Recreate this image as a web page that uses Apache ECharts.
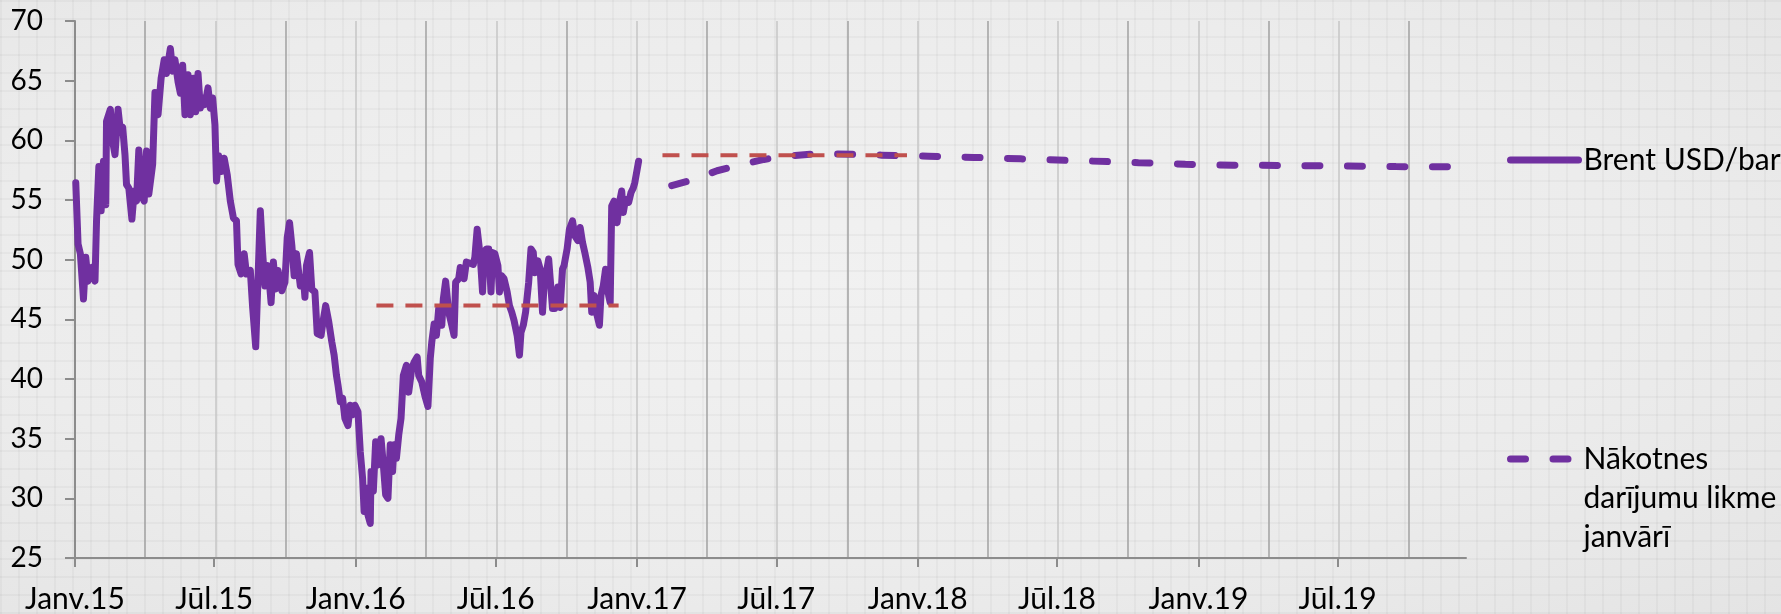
<!DOCTYPE html>
<html>
<head>
<meta charset="utf-8">
<script src="https://cdn.jsdelivr.net/npm/echarts@6/dist/echarts.min.js"></script>
<style>
  html, body { margin: 0; padding: 0; }
  body {
    width: 1781px; height: 614px; overflow: hidden;
    background-color: #ebebeb;
    background-image:
      linear-gradient(to right, rgba(0,0,0,0.03) 2px, transparent 2px),
      linear-gradient(to bottom, rgba(0,0,0,0.03) 2px, transparent 2px),
      radial-gradient(ellipse at 45% 45%, #f1f1f1 0%, #ececec 60%, #e4e4e4 100%);
    background-size: 18px 18px, 18px 18px, 100% 100%;
  }
  #chart { width: 1781px; height: 614px; }
</style>
</head>
<body>
<div id="chart"></div>
<script>
  // x axis labels (Jan / Jul)
  var tickDates = ['2015-01-01', '2015-07-01', '2016-01-01', '2016-07-01', '2017-01-01',
    '2017-07-01', '2018-01-01', '2018-07-01', '2019-01-01', '2019-07-01'];
  var tickLabels = ['Janv.15', 'Jūl.15', 'Janv.16', 'Jūl.16', 'Janv.17',
    'Jūl.17', 'Janv.18', 'Jūl.18', 'Janv.19', 'Jūl.19'];

  // Brent USD/bar
  var brentDates = [
    '2015-01-02', '2015-01-05', '2015-01-08', '2015-01-12', '2015-01-15', '2015-01-18', '2015-01-23', '2015-01-27', '2015-01-29',
    '2015-02-01', '2015-02-04', '2015-02-07', '2015-02-10', '2015-02-11', '2015-02-16', '2015-02-19', '2015-02-22', '2015-02-26',
    '2015-03-01', '2015-03-04', '2015-03-07', '2015-03-09', '2015-03-12', '2015-03-16', '2015-03-19', '2015-03-22', '2015-03-25', '2015-03-29',
    '2015-04-01', '2015-04-04', '2015-04-07', '2015-04-12', '2015-04-15', '2015-04-19', '2015-04-23', '2015-04-27', '2015-04-30',
    '2015-05-05', '2015-05-08', '2015-05-11', '2015-05-15', '2015-05-18', '2015-05-21', '2015-05-24', '2015-05-28', '2015-05-31',
    '2015-06-04', '2015-06-07', '2015-06-10', '2015-06-13', '2015-06-16', '2015-06-19', '2015-06-23', '2015-06-26', '2015-06-29',
    '2015-07-02', '2015-07-04', '2015-07-07', '2015-07-11', '2015-07-14', '2015-07-18', '2015-07-22', '2015-07-26', '2015-07-30',
    '2015-08-01', '2015-08-05', '2015-08-09', '2015-08-12', '2015-08-17', '2015-08-20', '2015-08-24', '2015-08-30',
    '2015-09-02', '2015-09-05', '2015-09-09', '2015-09-13', '2015-09-16', '2015-09-19', '2015-09-22', '2015-09-27',
    '2015-10-01', '2015-10-04', '2015-10-07', '2015-10-10', '2015-10-13', '2015-10-16', '2015-10-21', '2015-10-25', '2015-10-27', '2015-10-29',
    '2015-11-02', '2015-11-05', '2015-11-09', '2015-11-12', '2015-11-17', '2015-11-20', '2015-11-23', '2015-11-27',
    '2015-12-01', '2015-12-04', '2015-12-07', '2015-12-09', '2015-12-12', '2015-12-15', '2015-12-18', '2015-12-22', '2015-12-25', '2015-12-28', '2015-12-31',
    '2016-01-04', '2016-01-07', '2016-01-10', '2016-01-12', '2016-01-15', '2016-01-17', '2016-01-20', '2016-01-21', '2016-01-24', '2016-01-27', '2016-01-30',
    '2016-02-03', '2016-02-06', '2016-02-09', '2016-02-12', '2016-02-15', '2016-02-18', '2016-02-20', '2016-02-23', '2016-02-26', '2016-02-29',
    '2016-03-03', '2016-03-07', '2016-03-10', '2016-03-14', '2016-03-17', '2016-03-21', '2016-03-23', '2016-03-27', '2016-03-31',
    '2016-04-04', '2016-04-07', '2016-04-09', '2016-04-12', '2016-04-15', '2016-04-18', '2016-04-22', '2016-04-24', '2016-04-27',
    '2016-05-01', '2016-05-05', '2016-05-08', '2016-05-10', '2016-05-14', '2016-05-16', '2016-05-21', '2016-05-24', '2016-05-29',
    '2016-06-02', '2016-06-04', '2016-06-07', '2016-06-11', '2016-06-14', '2016-06-16', '2016-06-19', '2016-06-22', '2016-06-25', '2016-06-27', '2016-06-30',
    '2016-07-04', '2016-07-06', '2016-07-09', '2016-07-12', '2016-07-16', '2016-07-19', '2016-07-22', '2016-07-25', '2016-07-29',
    '2016-08-01', '2016-08-03', '2016-08-06', '2016-08-09', '2016-08-13', '2016-08-16', '2016-08-19', '2016-08-21', '2016-08-25', '2016-08-28', '2016-08-31',
    '2016-09-02', '2016-09-08', '2016-09-10', '2016-09-13', '2016-09-16', '2016-09-20', '2016-09-23', '2016-09-26', '2016-09-28',
    '2016-10-02', '2016-10-05', '2016-10-09', '2016-10-12', '2016-10-16', '2016-10-19', '2016-10-22', '2016-10-25', '2016-10-29',
    '2016-11-01', '2016-11-03', '2016-11-06', '2016-11-09', '2016-11-13', '2016-11-15', '2016-11-18', '2016-11-21', '2016-11-25', '2016-11-27', '2016-11-29',
    '2016-12-02', '2016-12-06', '2016-12-09', '2016-12-12', '2016-12-14', '2016-12-17', '2016-12-21', '2016-12-24', '2016-12-27', '2016-12-29',
    '2017-01-03'
  ];
  var brentValues = [
    56.45, 51.3, 50.5, 46.7, 50.2, 48.2, 49.35, 48.2, 53.25,
    57.8, 54.1, 58.25, 54.6, 61.6, 62.6, 59.9, 58.8, 62.6,
    60.8, 61.1, 58.8, 56.3, 56.0, 53.4, 55.75, 54.9, 59.2, 55.3,
    54.9, 59.1, 55.5, 58.0, 64.0, 62.15, 65.2, 66.75, 65.6,
    67.7, 65.8, 66.75, 64.9, 63.96, 66.3, 62.15, 65.5, 62.15,
    65.2, 62.4, 65.6, 62.7, 63.55, 63.0, 64.4, 62.7, 63.55,
    61.3, 56.6, 58.7, 57.4, 58.5, 57.1, 54.9, 53.5, 53.25,
    49.6, 48.8, 50.5, 48.8, 49.1, 46.0, 42.7, 54.1,
    50.6, 47.8, 49.5, 46.4, 49.8, 47.55, 49.1, 47.4,
    48.1, 51.85, 53.1, 51.2, 48.65, 50.5, 47.8, 48.5, 46.85, 49.5,
    50.6, 47.5, 47.3, 43.8, 43.65, 45.0, 46.15, 44.8,
    43.1, 42.0, 40.3, 39.5, 38.1, 38.4, 36.7, 36.1, 37.8, 37.0, 37.8,
    37.25, 33.9, 31.7, 28.9, 30.85, 28.6, 27.9, 32.25, 30.6, 34.75, 32.8,
    35.0, 32.8, 30.3, 30.0, 34.5, 32.25, 34.5, 33.35, 35.3, 36.7,
    40.3, 41.15, 38.9, 40.9, 41.4, 41.85, 40.3, 39.75, 38.6,
    37.7, 41.7, 43.1, 44.6, 43.65, 45.9, 44.5, 46.7, 48.2,
    45.6, 44.5, 43.65, 48.1, 48.4, 49.35, 48.4, 49.8, 49.7,
    49.6, 50.2, 52.55, 50.3, 47.3, 50.6, 50.9, 50.9, 47.3, 50.6, 50.5,
    49.5, 47.3, 48.65, 48.4, 47.3, 46.15, 45.6, 44.9, 43.65,
    42.0, 43.9, 44.5, 45.6, 48.1, 50.9, 50.6, 48.9, 49.9, 49.2, 45.6,
    47.8, 50.05, 48.4, 45.9, 45.9, 47.7, 46.0, 49.2, 49.5,
    50.9, 52.55, 53.25, 52.0, 51.6, 52.7, 51.45, 50.6, 49.35,
    48.1, 45.6, 47.0, 45.6, 44.5, 47.0, 47.8, 49.2, 47.0, 46.4, 54.5,
    54.9, 53.1, 54.8, 55.75, 53.95, 55.05, 54.8, 55.6, 56.0, 56.45,
    58.25
  ];

  // futures curve, January
  var futuresDates = [
    '2017-02-15', '2017-03-15', '2017-04-15', '2017-05-15', '2017-06-15', '2017-07-15',
    '2017-08-15', '2017-09-15', '2017-10-15', '2017-11-15', '2017-12-15',
    '2018-01-15', '2018-02-15', '2018-03-15', '2018-04-15', '2018-05-15', '2018-06-15',
    '2018-07-15', '2018-08-15', '2018-09-15', '2018-10-15', '2018-11-15', '2018-12-15',
    '2019-01-15', '2019-02-15', '2019-03-15', '2019-04-15', '2019-05-15', '2019-06-15',
    '2019-07-15', '2019-08-15', '2019-09-15', '2019-10-15', '2019-11-15', '2019-12-15'
  ];
  var futuresValues = [
    56.2, 56.7, 57.45, 57.95, 58.4, 58.68, 58.83, 58.85, 58.82, 58.76, 58.7,
    58.67, 58.62, 58.57, 58.51, 58.45, 58.38, 58.32, 58.26, 58.2, 58.13, 58.07, 57.99,
    57.95, 57.92, 57.91, 57.9, 57.88, 57.86, 57.84, 57.82, 57.8, 57.79, 57.79, 57.78
  ];

  // red average lines
  var avg2016Dates = ['2016-01-28', '2016-12-08'];
  var avg2016Values = [46.15, 46.15];
  var avg2017Dates = ['2017-02-03', '2017-12-18'];
  var avg2017Values = [58.76, 58.76];

  var START = Date.UTC(2015, 0, 1);
  function dayNo(s) {
    var p = s.split('-');
    return Math.round((Date.UTC(+p[0], +p[1] - 1, +p[2]) - START) / 86400000);
  }
  function pairs(dates, values) {
    return dates.map(function (d, i) { return [dayNo(d), values[i]]; });
  }
  var tickDays = tickDates.map(dayNo);
  var lastDay = dayNo('2019-12-15');

  var brentName = 'Brent USD/bar';
  var futName = 'Nākotnes\ndarījumu likme\njanvārī';
  var axisGrey = '#8c8c8c';

  var chart = echarts.init(document.getElementById('chart'));
  chart.setOption({
    animation: false,
    textStyle: { fontFamily: 'Lato' },
    grid: { left: 75, right: 315, top: 21, bottom: 54 },
    legend: [
      {
        data: [brentName],
        orient: 'vertical',
        left: 1507,
        top: 140.5,
        padding: 0,
        itemWidth: 68,
        itemHeight: 14,
        itemStyle: { opacity: 0 },
        lineStyle: { width: 7 },
        textStyle: { fontSize: 30, color: '#000', lineHeight: 39 }
      },
      {
        data: [futName],
        orient: 'vertical',
        left: 1507,
        top: 361.5,
        padding: 0,
        itemWidth: 68,
        itemHeight: 14,
        itemStyle: { opacity: 0 },
        lineStyle: { width: 7 },
        formatter: '\n\n{name}',
        textStyle: { fontSize: 30, color: '#000', lineHeight: 39 }
      }
    ],
    xAxis: [
      {
        type: 'value',
        min: 0,
        max: lastDay,
        axisLine: { onZero: false, lineStyle: { color: axisGrey, width: 2 } },
        axisTick: { customValues: tickDays, length: 9, lineStyle: { color: axisGrey, width: 2 } },
        axisLabel: {
          customValues: tickDays,
          color: '#000',
          fontSize: 30,
          margin: 26,
          formatter: function (v) {
            for (var i = 0; i < tickDays.length; i++) {
              if (Math.abs(tickDays[i] - v) < 0.5) return tickLabels[i];
            }
            return '';
          }
        },
        splitLine: { show: false },
        z: 3
      },
      {
        // quarterly gridlines only
        type: 'value',
        min: 0,
        max: lastDay,
        interval: 365.25 / 4,
        axisLine: { show: false },
        axisTick: { show: false },
        axisLabel: { show: false },
        splitLine: {
          show: true,
          showMaxLine: false,
          lineStyle: { color: ['#c8c8c8', '#a6a6a6'], width: 1.6 }
        }
      }
    ],
    yAxis: {
      type: 'value',
      min: 25,
      max: 70,
      interval: 5,
      axisLine: { show: true, onZero: false, lineStyle: { color: axisGrey, width: 2 } },
      axisTick: { show: true, length: 10, lineStyle: { color: axisGrey, width: 2 } },
      axisLabel: { color: '#000', fontSize: 28, margin: 32 },
      splitLine: { show: false },
      z: 3
    },
    series: [
      {
        name: brentName,
        type: 'line',
        symbol: 'none',
        data: pairs(brentDates, brentValues),
        lineStyle: { color: '#7030A0', width: 7, join: 'round', cap: 'round' },
        itemStyle: { color: '#7030A0' }
      },
      {
        name: futName,
        type: 'line',
        symbol: 'none',
        data: pairs(futuresDates, futuresValues),
        lineStyle: { color: '#7030A0', width: 7, type: [15, 27.5], cap: 'round' },
        itemStyle: { color: '#7030A0' }
      },
      {
        name: 'vid2016',
        type: 'line',
        symbol: 'none',
        data: pairs(avg2016Dates, avg2016Values),
        lineStyle: { color: '#C0504D', width: 4, type: [17, 12], cap: 'butt' }
      },
      {
        name: 'vid2017',
        type: 'line',
        symbol: 'none',
        data: pairs(avg2017Dates, avg2017Values),
        lineStyle: { color: '#C0504D', width: 4, type: [17, 12], cap: 'butt' }
      }
    ]
  });
</script>
</body>
</html>
